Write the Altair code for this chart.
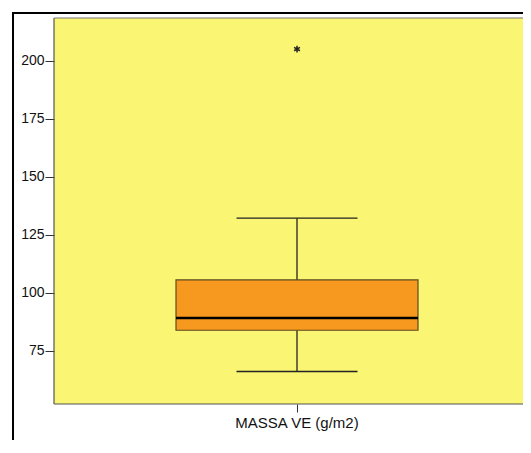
import altair as alt
import pandas as pd

category = ["MASSA VE (g/m2)"]
lower_whisker = [66.0]
q1 = [83.8]
median = [89.1]
q3 = [105.5]
upper_whisker = [132.1]
outlier = [205.0]
y_ticks = [75, 100, 125, 150, 175, 200]

stats = pd.DataFrame({
    "cat": category, "lo": lower_whisker, "q1": q1, "med": median,
    "q3": q3, "hi": upper_whisker,
})
out_df = pd.DataFrame({"cat": category, "v": outlier})

W, H = 486, 386
yscale = alt.Scale(domain=[52, 218.4], nice=False, zero=False)
xenc = alt.X("cat:N", title=None,
             axis=alt.Axis(labelAngle=0, domain=False, tickSize=8, tickColor="#333",
                           labelFont="Liberation Sans", labelFontSize=15,
                           labelColor="#111", labelPadding=3))
yaxis = alt.Axis(values=y_ticks, grid=False, domain=False, tickSize=9, tickColor="#333",
                 labelFont="Liberation Sans", labelFontSize=14, labelColor="#111",
                 labelPadding=1)

one = pd.DataFrame({"a": [0]})
base = alt.Chart(stats)

frame_left = alt.Chart(one).mark_rule(color="black", strokeWidth=2).encode(
    x=alt.value(-41), y=alt.value(-6), y2=alt.value(H + 60))
frame_top = alt.Chart(one).mark_rule(color="black", strokeWidth=2).encode(
    x=alt.value(-42), x2=alt.value(W), y=alt.value(-5))

border_left = alt.Chart(one).mark_rule(color="#555", strokeWidth=1.2).encode(
    x=alt.value(0), y=alt.value(0), y2=alt.value(H))
border_top = alt.Chart(one).mark_rule(color="#777", strokeWidth=1.2).encode(
    x=alt.value(0), x2=alt.value(W), y=alt.value(0))
border_bottom = alt.Chart(one).mark_rule(color="#555", strokeWidth=1.2).encode(
    x=alt.value(0), x2=alt.value(W), y=alt.value(H))

wlow = base.mark_rule(color="#222", strokeWidth=1.3).encode(
    x=xenc, y=alt.Y("lo:Q", scale=yscale, axis=yaxis, title=None), y2="q1:Q")
whigh = base.mark_rule(color="#222", strokeWidth=1.3).encode(
    x=xenc, y=alt.Y("q3:Q", scale=yscale, axis=yaxis, title=None), y2="hi:Q")
cap_lo = base.mark_tick(color="#222", size=121, thickness=1.3, opacity=1).encode(
    x=xenc, y=alt.Y("lo:Q", scale=yscale))
cap_hi = base.mark_tick(color="#222", size=121, thickness=1.3, opacity=1).encode(
    x=xenc, y=alt.Y("hi:Q", scale=yscale))
box = base.mark_bar(size=242, fill="#F8991F", stroke="#5b4b22", strokeWidth=1.2,
                    opacity=1).encode(
    x=xenc, y=alt.Y("q1:Q", scale=yscale), y2="q3:Q")
med = base.mark_tick(color="#000", size=242, thickness=2.6, opacity=1).encode(
    x=xenc, y=alt.Y("med:Q", scale=yscale))
star = alt.Chart(out_df).mark_point(
    shape="M0,-1L0,1M-0.87,-0.5L0.87,0.5M-0.87,0.5L0.87,-0.5",
    stroke="#222", strokeWidth=1.5, size=45, filled=False, opacity=1
).encode(x=xenc, y=alt.Y("v:Q", scale=yscale))

chart = alt.layer(frame_left, frame_top, border_left, border_top, border_bottom,
                  wlow, whigh, cap_lo, cap_hi, box, med, star).properties(
    width=W, height=H,
    autosize=alt.AutoSizeParams(type="none"),
    padding={"left": 46, "top": 10, "right": -17, "bottom": 36},
    background="white",
).configure_view(fill="#FAF572", stroke=None).configure_scale(
    bandPaddingInner=0, bandPaddingOuter=0)

chart.save("out.html", embed_options={"renderer": "svg", "actions": False})
